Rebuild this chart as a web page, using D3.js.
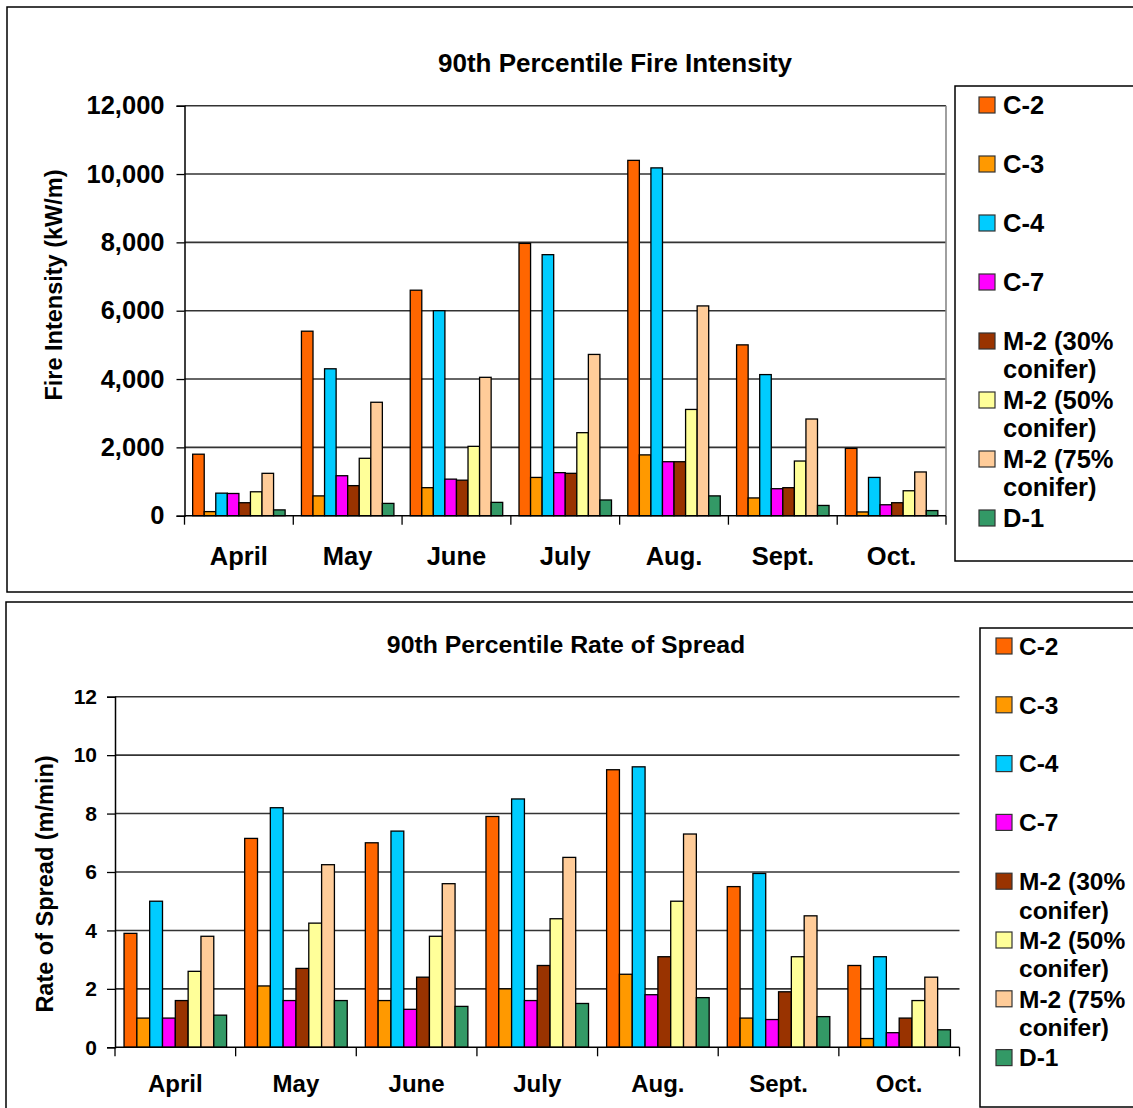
<!DOCTYPE html>
<html>
<head>
<meta charset="utf-8">
<script src="https://cdn.jsdelivr.net/npm/d3@7"></script>
<style>
  html, body { margin: 0; padding: 0; background: #fff; }
  svg { display: block; }
  text { font-family: "Liberation Sans", Arial, sans-serif; font-weight: bold; fill: #000; }
</style>
</head>
<body>
<svg id="chart" width="1133" height="1108"></svg>
<script>
// ---- Data ----
const months = ["April", "May", "June", "July", "Aug.", "Sept.", "Oct."];
const seriesNames = ["C-2", "C-3", "C-4", "C-7", "M-2 (30% conifer)", "M-2 (50% conifer)", "M-2 (75% conifer)", "D-1"];
const legendLines = [["C-2"], ["C-3"], ["C-4"], ["C-7"], ["M-2 (30%", "conifer)"], ["M-2 (50%", "conifer)"], ["M-2 (75%", "conifer)"], ["D-1"]];
const seriesColors = ["#FF6600", "#FF9900", "#00CCFF", "#FF00FF", "#993300", "#FFFF99", "#FFCC99", "#339966"];

// Fire intensity (kW/m), one array per series, values by month
const intC2   = [1800, 5400, 6600, 7970, 10400, 5000, 1970];
const intC3   = [120, 580, 820, 1120, 1780, 520, 110];
const intC4   = [660, 4300, 6000, 7640, 10180, 4130, 1120];
const intC7   = [650, 1170, 1070, 1260, 1580, 790, 320];
const intM230 = [380, 880, 1040, 1240, 1580, 820, 380];
const intM250 = [700, 1680, 2030, 2430, 3110, 1600, 730];
const intM275 = [1240, 3320, 4050, 4720, 6140, 2830, 1280];
const intD1   = [170, 360, 390, 460, 580, 300, 150];

// Rate of spread (m/min)
const rosC2   = [3.9, 7.15, 7.0, 7.9, 9.5, 5.5, 2.8];
const rosC3   = [1.0, 2.1, 1.6, 2.0, 2.5, 1.0, 0.3];
const rosC4   = [5.0, 8.2, 7.4, 8.5, 9.6, 5.95, 3.1];
const rosC7   = [1.0, 1.6, 1.3, 1.6, 1.8, 0.95, 0.5];
const rosM230 = [1.6, 2.7, 2.4, 2.8, 3.1, 1.9, 1.0];
const rosM250 = [2.6, 4.25, 3.8, 4.4, 5.0, 3.1, 1.6];
const rosM275 = [3.8, 6.25, 5.6, 6.5, 7.3, 4.5, 2.4];
const rosD1   = [1.1, 1.6, 1.4, 1.5, 1.7, 1.05, 0.6];

const intTicks = [0, 2000, 4000, 6000, 8000, 10000, 12000];
const rosTicks = [0, 2, 4, 6, 8, 10, 12];

const intensitySeries = [intC2, intC3, intC4, intC7, intM230, intM250, intM275, intD1];
const rosSeries = [rosC2, rosC3, rosC4, rosC7, rosM230, rosM250, rosM275, rosD1];

const svg = d3.select("#chart");

function drawChart(cfg) {
  const g = svg.append("g");
  // outer frame
  g.append("rect")
    .attr("x", cfg.frame[0]).attr("y", cfg.frame[1])
    .attr("width", cfg.frame[2]).attr("height", cfg.frame[3])
    .attr("fill", "#fff").attr("stroke", "#000").attr("stroke-width", 1.5);

  const x = d3.scaleBand().domain(months).range([cfg.left, cfg.right]).paddingInner(0).paddingOuter(0);
  const y = d3.scaleLinear().domain([0, d3.max(cfg.ticks)]).range([cfg.bottom, cfg.top]);
  // cluster occupies ~85% of the band, centred
  const clusterW = x.bandwidth() * 0.85;
  const off = (x.bandwidth() - clusterW) / 2;
  const inner = d3.scaleBand().domain(seriesNames).range([off, off + clusterW]).padding(0);

  // gridlines
  g.append("g").selectAll("line").data(cfg.ticks.filter(t => t > 0)).join("line")
    .attr("x1", cfg.left).attr("x2", cfg.right)
    .attr("y1", d => y(d)).attr("y2", d => y(d))
    .attr("stroke", "#333").attr("stroke-width", 1.6);

  if (cfg.rightBorder) {
    g.append("line").attr("x1", cfg.right).attr("x2", cfg.right)
      .attr("y1", cfg.top).attr("y2", cfg.bottom)
      .attr("stroke", "#888").attr("stroke-width", 1.6);
  }

  // bars
  const data = [];
  months.forEach((m, mi) => {
    seriesNames.forEach((s, si) => {
      data.push({ m, s, si, v: cfg.series[si][mi] });
    });
  });
  g.append("g").selectAll("rect").data(data).join("rect")
    .attr("x", d => x(d.m) + inner(d.s))
    .attr("width", inner.bandwidth())
    .attr("y", d => y(d.v))
    .attr("height", d => y(0) - y(d.v))
    .attr("fill", d => seriesColors[d.si])
    .attr("stroke", "#000").attr("stroke-width", 1.3);

  // y axis
  const yAxis = d3.axisLeft(y).tickValues(cfg.ticks).tickFormat(cfg.fmt).tickSize(8).tickPadding(cfg.tickPad);
  const ya = g.append("g").attr("transform", `translate(${cfg.left},0)`).call(yAxis);
  ya.select(".domain").attr("stroke", "#000").attr("stroke-width", 1.5);
  ya.selectAll(".tick line").attr("stroke", "#000").attr("stroke-width", 1.3);
  ya.selectAll(".tick text").style("font-size", cfg.tickFont + "px")
    .style("font-family", '"Liberation Sans", Arial, sans-serif').style("font-weight", "bold").attr("fill", "#000");

  // x axis (ticks between categories)
  const xa = g.append("g").attr("transform", `translate(0,${cfg.bottom})`);
  xa.append("line").attr("x1", cfg.left).attr("x2", cfg.right).attr("y1", 0).attr("y2", 0)
    .attr("stroke", "#000").attr("stroke-width", 1.5);
  const bounds = months.map(m => x(m)).concat([cfg.right]);
  xa.selectAll("line.tk").data(bounds).join("line").attr("class", "tk")
    .attr("x1", d => d).attr("x2", d => d).attr("y1", 0).attr("y2", 9)
    .attr("stroke", "#000").attr("stroke-width", 1.3);
  xa.selectAll("text").data(months).join("text")
    .attr("x", d => x(d) + x.bandwidth() / 2)
    .attr("y", cfg.xLabelDy)
    .attr("text-anchor", "middle")
    .style("font-size", cfg.xFont + "px")
    .text(d => d);

  // title
  g.append("text").attr("x", cfg.titleX).attr("y", cfg.titleY)
    .attr("text-anchor", "middle").style("font-size", cfg.titleFont + "px").text(cfg.title);

  // y title
  g.append("text")
    .attr("transform", `translate(${cfg.yTitleX},${cfg.yTitleY}) rotate(-90)`)
    .attr("text-anchor", "middle").attr("dy", "0.35em")
    .style("font-size", cfg.yTitleFont + "px").text(cfg.yTitle);

  // legend
  const L = cfg.legend;
  g.append("rect").attr("x", L.x).attr("y", L.y).attr("width", L.w).attr("height", L.h)
    .attr("fill", "#fff").attr("stroke", "#000").attr("stroke-width", 1.5);
  const items = g.append("g").selectAll("g").data(seriesNames).join("g")
    .attr("transform", (d, i) => `translate(0,${L.firstY + L.step * i})`);
  items.append("rect").attr("x", L.swX).attr("y", -L.sw / 2).attr("width", L.sw).attr("height", L.sw)
    .attr("fill", (d, i) => seriesColors[i]).attr("stroke", "#333").attr("stroke-width", 1.2);
  items.append("text").attr("x", L.textX).attr("y", 0)
    .style("font-size", L.font + "px")
    .selectAll("tspan").data((d, i) => legendLines[i]).join("tspan")
    .attr("x", L.textX).attr("dy", (d, j) => j === 0 ? "0.36em" : L.lineH + "px")
    .text(d => d);
}

drawChart({
  frame: [7, 7, 1140, 585],
  left: 184.5, right: 946, top: 105.7, bottom: 515.7,
  ticks: intTicks, fmt: d3.format(","), series: intensitySeries,
  rightBorder: true,
  tickFont: 25.5, tickPad: 12, xFont: 25.5, xLabelDy: 49,
  title: "90th Percentile Fire Intensity", titleX: 615, titleY: 72, titleFont: 26,
  yTitle: "Fire Intensity (kW/m)", yTitleX: 54, yTitleY: 285, yTitleFont: 23.5,
  legend: { x: 955, y: 86, w: 190, h: 475, firstY: 105, step: 59, swX: 979, sw: 16, textX: 1003, font: 25.5, lineH: 28 }
});

drawChart({
  frame: [6, 602, 1140, 520],
  left: 115, right: 959.5, top: 696.7, bottom: 1047.3,
  ticks: rosTicks, fmt: d3.format("d"), series: rosSeries,
  rightBorder: false,
  tickFont: 21, tickPad: 10, xFont: 24, xLabelDy: 45,
  title: "90th Percentile Rate of Spread", titleX: 566, titleY: 653, titleFont: 24.8,
  yTitle: "Rate of Spread (m/min)", yTitleX: 45, yTitleY: 884, yTitleFont: 23.5,
  legend: { x: 980, y: 628, w: 170, h: 479, firstY: 646, step: 58.8, swX: 996, sw: 16, textX: 1019, font: 24.5, lineH: 28.5 }
});
</script>
</body>
</html>
